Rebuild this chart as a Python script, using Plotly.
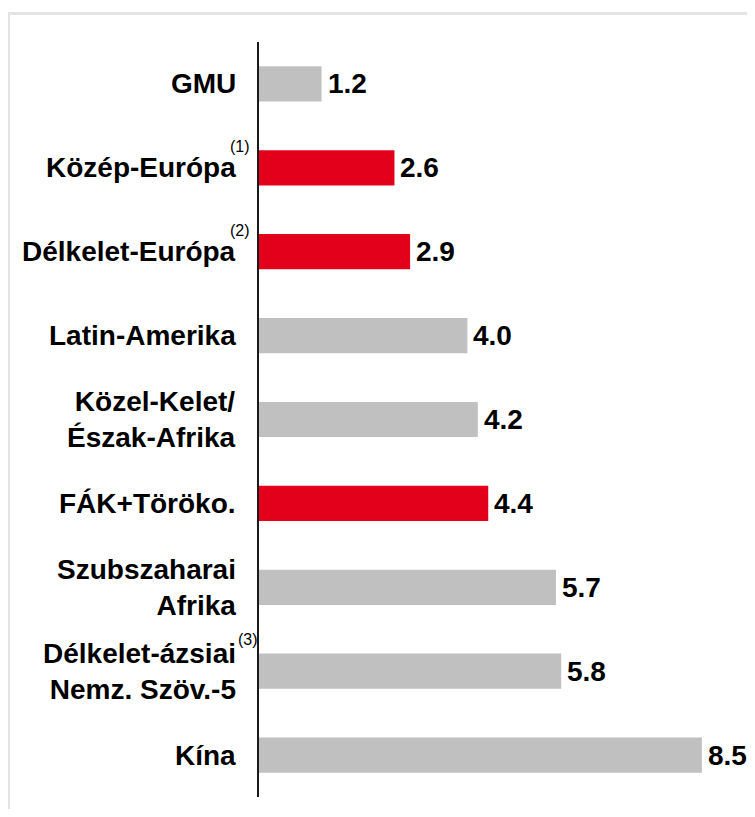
import plotly.graph_objects as go

categories = [
    "GMU",
    "Közép-Európa",
    "Délkelet-Európa",
    "Latin-Amerika",
    "Közel-Kelet/<br>Észak-Afrika",
    "FÁK+Töröko.",
    "Szubszaharai<br>Afrika",
    "Délkelet-ázsiai<br>Nemz. Szöv.-5",
    "Kína",
]
values = [1.2, 2.6, 2.9, 4.0, 4.2, 4.4, 5.7, 5.8, 8.5]
value_labels = ["1.2", "2.6", "2.9", "4.0", "4.2", "4.4", "5.7", "5.8", "8.5"]
highlighted = [False, True, True, False, False, True, False, False, False]
footnotes = ["", "(1)", "(2)", "", "", "", "", "(3)", ""]

GRAY = "#C0C0C0"
RED = "#E3001B"
FONT = "Liberation Sans, Arial, sans-serif"

colors = [RED if h else GRAY for h in highlighted]

fig = go.Figure(
    go.Bar(
        x=values,
        y=categories,
        orientation="h",
        marker=dict(color=colors, line=dict(width=0)),
        hoverinfo="skip",
    )
)

# page has an 8px body margin, so the figure is 16px smaller than the window
W, H = 739, 801
ML, MR, MT, MB = 251, 2, 34, 12
plot_w = W - ML - MR
plot_h = H - MT - MB
xmax = plot_w / 52.1

annotations = []
for cat, v, lab, fn in zip(categories, values, value_labels, footnotes):
    annotations.append(dict(
        x=0, xref="paper", y=cat, yref="y", text=cat, showarrow=False,
        xanchor="right", yanchor="middle", xshift=-21, align="right",
        font=dict(family=FONT, size=28, color="#000000", weight="bold"),
    ))
    annotations.append(dict(
        x=v, xref="x", y=cat, yref="y", text=lab, showarrow=False,
        xanchor="left", yanchor="middle", xshift=4,
        font=dict(family=FONT, size=28, color="#000000", weight="bold"),
    ))
    if fn:
        two_line = "<br>" in cat
        annotations.append(dict(
            x=0, xref="paper", y=cat, yref="y", text=fn, showarrow=False,
            xanchor="left" if two_line else "right", yanchor="middle",
            xshift=-23 if two_line else -7,
            yshift=32 if two_line else 21,
            font=dict(family=FONT, size=16, color="#000000"),
        ))

fig.update_layout(
    width=W, height=H,
    margin=dict(l=ML, r=MR, t=MT, b=MB, pad=0),
    paper_bgcolor="white", plot_bgcolor="white",
    showlegend=False,
    bargap=0.58,
    xaxis=dict(range=[0, xmax], visible=False, fixedrange=True),
    yaxis=dict(
        type="category", categoryorder="array", categoryarray=categories,
        range=[len(categories) - 0.5, -0.5],
        showticklabels=False, showgrid=False, zeroline=False,
        showline=True, linecolor="#1a1a1a", linewidth=1.5, ticks="",
        fixedrange=True,
    ),
    annotations=annotations,
    shapes=[
        dict(type="line", xref="paper", yref="paper",
             x0=(0 - ML) / plot_w, x1=(W - ML) / plot_w,
             y0=(H - MB - 5.5) / plot_h, y1=(H - MB - 5.5) / plot_h,
             line=dict(color="#E4E4E4", width=3)),
        dict(type="line", xref="paper", yref="paper",
             x0=(1 - ML) / plot_w, x1=(1 - ML) / plot_w,
             y0=(H - MB - 4) / plot_h, y1=(H - MB - H) / plot_h,
             line=dict(color="#E4E4E4", width=2)),
    ],
)

fig.write_html("out.html", config=dict(displayModeBar=False))
